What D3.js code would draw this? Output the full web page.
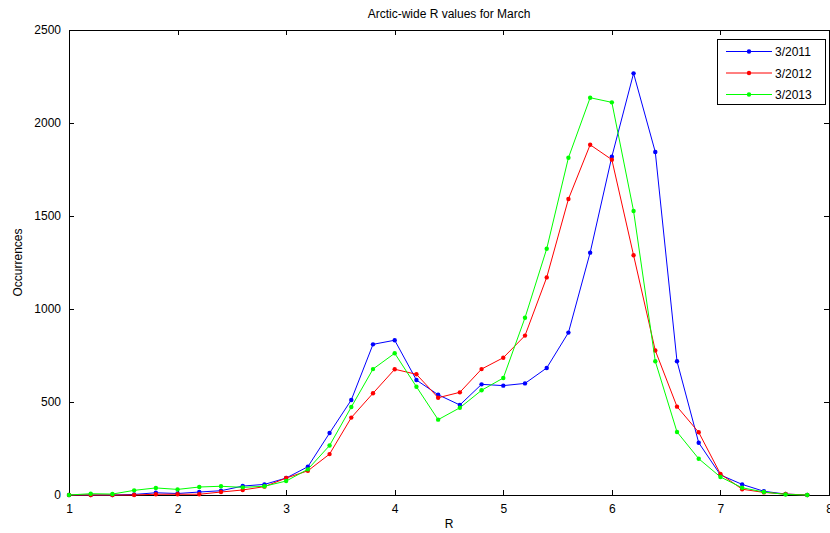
<!DOCTYPE html>
<html><head><meta charset="utf-8">
<script src="https://cdn.jsdelivr.net/npm/d3@7"></script>
<style>body{margin:0;background:#fff}svg{display:block}text{font-family:"Liberation Sans",Arial,sans-serif;fill:#000}</style>
</head><body><div id="c"></div>
<script>
const rValues = [1.0,1.2,1.4,1.6,1.8,2.0,2.2,2.4,2.6,2.8,3.0,3.2,3.4,3.6,3.8,4.0,4.2,4.4,4.6,4.8,5.0,5.2,5.4,5.6,5.8,6.0,6.2,6.4,6.6,6.8,7.0,7.2,7.4,7.6,7.8];
const series2011 = [0,0,0,3,12,8,16,23,48,57,91,152,333,511,810,832,618,539,484,595,588,600,683,873,1303,1819,2267,1844,719,281,108,57,20,5,0];
const series2012 = [0,0,0,0,4,4,4,16,27,45,91,130,220,416,547,676,649,523,552,677,738,857,1170,1591,1883,1803,1289,777,475,337,113,31,14,5,0];
const series2013 = [0,7,5,25,38,30,43,47,41,47,75,138,266,473,677,762,582,405,469,563,629,953,1324,1813,2136,2111,1527,719,339,195,97,39,16,3,0];
const seriesNames = ["3/2011","3/2012","3/2013"];
const seriesColors = ["#0000ff","#ff0000","#00ff00"];
const xTicks = [1,2,3,4,5,6,7,8];
const yTicks = [0,500,1000,1500,2000,2500];
const allSeries = [series2011, series2012, series2013];

const W=830,H=533, L=69, R=829, T=30, B=495;
const svg=d3.select("#c").append("svg").attr("width",W).attr("height",H);
const x=d3.scaleLinear().domain([1,8]).range([L,R]);
const y=d3.scaleLinear().domain([0,2500]).range([B,T]);

// box
svg.append("rect").attr("x",L).attr("y",T).attr("width",R-L).attr("height",B-T).attr("fill","#fff").attr("stroke","#000").attr("stroke-width",1).attr("shape-rendering","crispEdges");

const ax=svg.append("g").attr("transform",`translate(0,${B})`).call(d3.axisBottom(x).tickValues(xTicks).tickSizeInner(-5).tickSizeOuter(0).tickPadding(9).tickFormat(d3.format("d")));
const axT=svg.append("g").attr("transform",`translate(0,${T})`).call(d3.axisTop(x).tickValues(xTicks).tickSizeInner(-5).tickSizeOuter(0).tickFormat(""));
const ay=svg.append("g").attr("transform",`translate(${L},0)`).call(d3.axisLeft(y).tickValues(yTicks).tickSizeInner(-5).tickSizeOuter(0).tickPadding(8).tickFormat(d3.format("d")));
const ayR=svg.append("g").attr("transform",`translate(${R},0)`).call(d3.axisRight(y).tickValues(yTicks).tickSizeInner(-5).tickSizeOuter(0).tickFormat(""));
[ax,axT,ay,ayR].forEach(g=>{g.select(".domain").remove();g.selectAll("line").attr("stroke","#000").attr("shape-rendering","crispEdges");g.selectAll("text").attr("font-size",12).attr("font-family","Liberation Sans, Arial, sans-serif");});
ax.selectAll("text").attr("dy","0.71em");

const line=d3.line().x((d,i)=>x(rValues[i])).y(d=>y(d));
allSeries.forEach((s,k)=>{
  const g=svg.append("g");
  g.append("path").datum(s).attr("d",line).attr("fill","none").attr("stroke",seriesColors[k]).attr("stroke-width",1);
  g.selectAll("circle").data(s).enter().append("circle").attr("cx",(d,i)=>x(rValues[i])).attr("cy",d=>y(d)).attr("r",2.2).attr("fill",seriesColors[k]);
});

svg.append("text").attr("x",(L+R)/2).attr("y",18).attr("text-anchor","middle").attr("font-size",12).text("Arctic-wide R values for March");
svg.append("text").attr("x",(L+R)/2).attr("y",528).attr("text-anchor","middle").attr("font-size",12).text("R");
svg.append("text").attr("transform",`translate(22,${(T+B)/2}) rotate(-90)`).attr("text-anchor","middle").attr("font-size",12).text("Occurrences");

// legend
const lg=svg.append("g");
lg.append("rect").attr("x",717.5).attr("y",39.5).attr("width",108).attr("height",65).attr("fill","#fff").attr("stroke","#000").attr("shape-rendering","crispEdges");
seriesNames.forEach((n,k)=>{
  const yy=51.5+k*21.5;
  lg.append("line").attr("x1",726).attr("x2",772).attr("y1",yy).attr("y2",yy).attr("stroke",seriesColors[k]);
  lg.append("circle").attr("cx",749).attr("cy",yy).attr("r",2.2).attr("fill",seriesColors[k]);
  lg.append("text").attr("x",775).attr("y",yy+4.5).attr("font-size",12).text(n);
});
</script></body></html>
